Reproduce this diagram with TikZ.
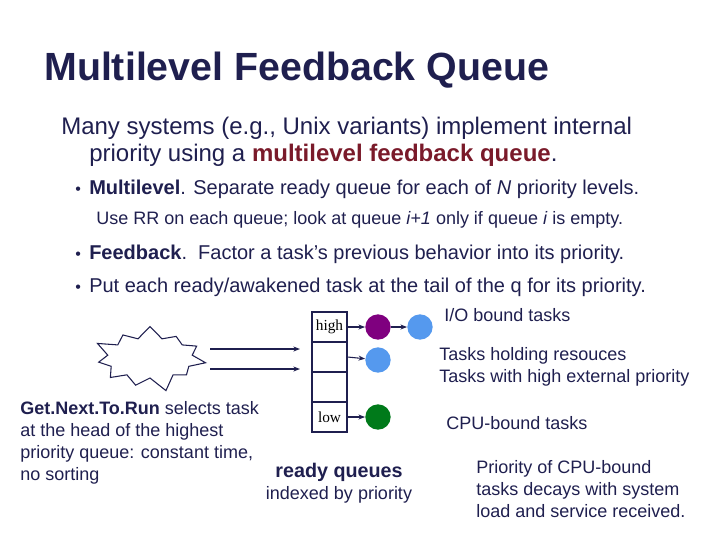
\documentclass[tikz,border=0pt]{standalone}
\usepackage{fontspec}
\setmainfont{Liberation Sans}
\newfontfamily\serifq{Liberation Serif}
\usetikzlibrary{shapes.misc,shapes.symbols,arrows.meta}
\definecolor{ink}{HTML}{1F1F4F}
\definecolor{dred}{HTML}{7A1A2A}
\definecolor{purp}{HTML}{7F007F}
\definecolor{lblue}{HTML}{5599EE}
\definecolor{gr}{HTML}{007A1A}
\newcommand{\bul}{\makebox[10.5pt][l]{\fontsize{12}{12}\selectfont•}}
\begin{document}
\begin{tikzpicture}[x=0.75pt,y=-0.75pt,
  big/.style={anchor=west,inner sep=0,text=ink,font=\fontsize{18}{20}\selectfont},
  txt/.style={anchor=west,inner sep=0,text=ink,font=\fontsize{15}{17.5}\selectfont},
  sm/.style={anchor=west,inner sep=0,text=ink,font=\fontsize{13.5}{16.5}\selectfont},
  cell/.style={draw=ink,thick,minimum width=26.25pt,minimum height=22.5pt,inner sep=0,font=\serifq\fontsize{11.5}{12}\selectfont},
  dot/.style={circle,minimum size=19pt,inner sep=0},
  arr/.style={draw=ink,thick,-{Stealth[length=5pt]}}]
\useasboundingbox (0,0) rectangle (720,540);
\node[anchor=west,inner sep=0,text=ink,font=\bfseries\fontsize{29.5}{32}\selectfont] (title) at (44,70) {Multilevel Feedback Queue};
\node[big] (l1) at (61,128) {Many systems (e.g., Unix variants) implement internal};
\node[big] (l2) at (89,155) {priority using a \textcolor{dred}{\bfseries multilevel feedback queue}.};
\node[txt] (b1) at (75,189) {\bul\textbf{Multilevel}. Separate ready queue for each of \textit{N} priority levels.};
\node[sm] (s1) at (96,220) {Use RR on each queue; look at queue \textit{i+1} only if queue \textit{i} is empty.};
\node[txt] (b2) at (75,254) {\bul\textbf{Feedback}.\ \ Factor a task’s previous behavior into its priority.};
\node[txt] (b3) at (75,287) {\bul Put each ready/awakened task at the tail of the q for its priority.};
% queue
\node[cell] (c1) at (329.5,327) {high};
\node[cell] (c2) at (329.5,357) {};
\node[cell] (c3) at (329.5,387) {};
\node[cell] (c4) at (329.5,417) {low};
\node[dot,fill=purp] (p1) at (378,327) {};
\node[dot,fill=lblue] (p2) at (420,327) {};
\node[dot,fill=lblue] (q1) at (378,360) {};
\node[dot,fill=gr] (g1) at (378,417) {};
\draw[arr] (c1.east) -- (p1);
\draw[arr] (p1) -- (p2);
\draw[arr] (c2.east) -- (q1);
\draw[arr] (c4.east) -- (g1);
\node[starburst,draw=ink,thick,minimum width=88pt,minimum height=54pt,starburst points=11,starburst point height=12pt] (star) at (150,358) {};
\coordinate (a1) at (210,349); \coordinate (a2) at (210,369);
\coordinate (e1) at (300,349); \coordinate (e2) at (300,369);
\draw[arr] (a1) -- (e1);
\draw[arr] (a2) -- (e2);
\node[sm,text=ink] (io) at (444,315) {I/O bound tasks};
\node[sm,align=left,anchor=north west] (hold) at (439,347) {Tasks holding resouces\\Tasks with high external priority};
\node[sm] (cpu) at (446,423) {CPU-bound tasks};
\node[sm,align=left,anchor=north west] (next) at (20,401) {\textbf{Get.Next.To.Run} selects task\\at the head of the highest\\priority queue: constant time,\\no sorting};
\node[anchor=center,inner sep=0,text=ink,font=\bfseries\fontsize{14.8}{16}\selectfont] (rq) at (339,472) {ready queues};
\node[sm,anchor=center] (ip) at (339,495) {indexed by priority};
\node[sm,align=left,anchor=north west] (dec) at (476,460) {Priority of CPU-bound\\tasks decays with system\\load and service received.};
\end{tikzpicture}
\end{document}
